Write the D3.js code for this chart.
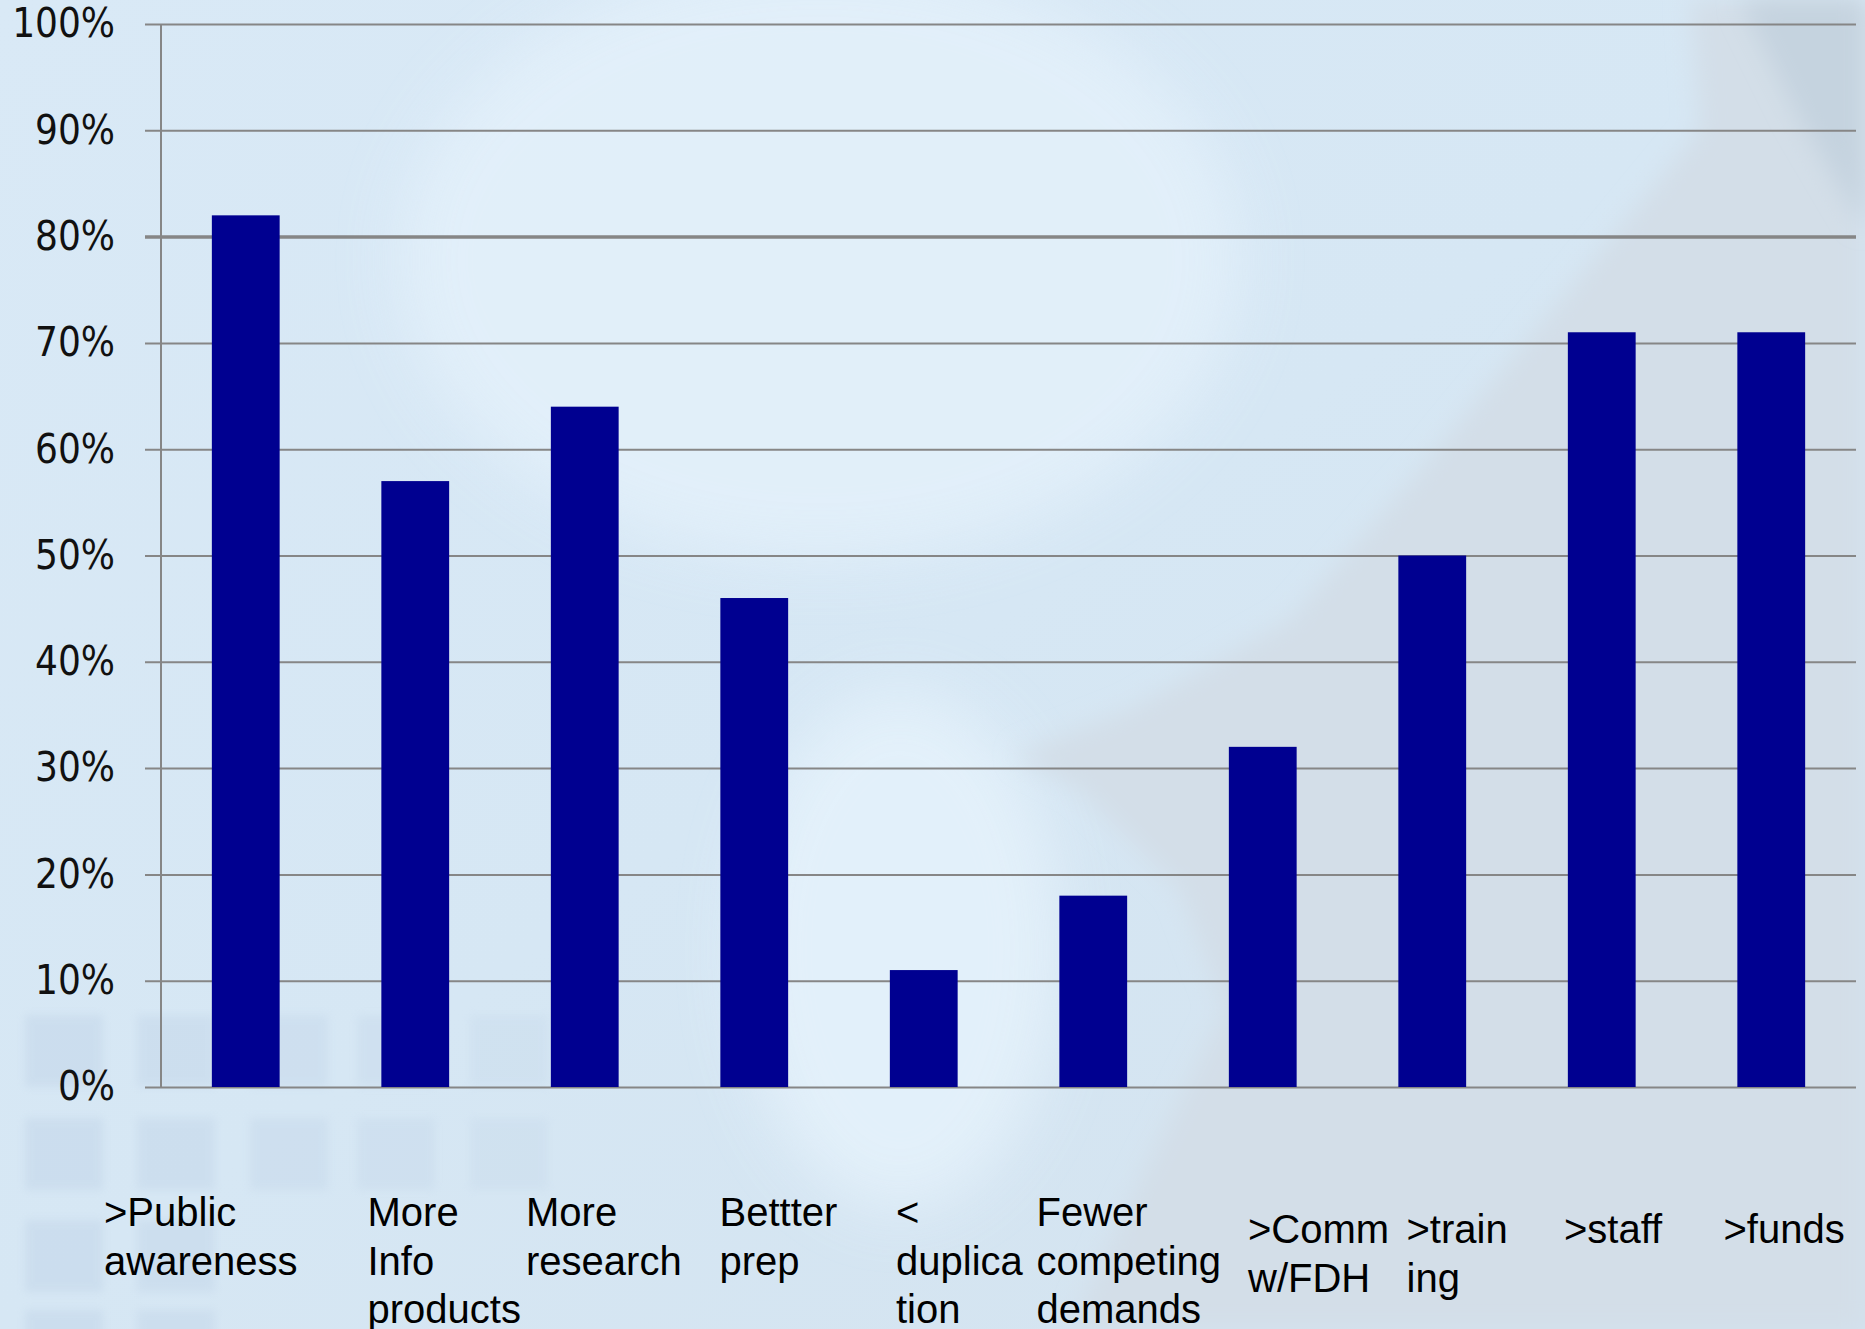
<!DOCTYPE html>
<html>
<head>
<meta charset="utf-8">
<script src="https://cdn.jsdelivr.net/npm/d3@7"></script>
<style>
  html, body { margin: 0; padding: 0; background: #d6e6f3; }
  svg { display: block; }
</style>
</head>
<body>
<svg id="chart" width="1865" height="1329"></svg>
<script>
// chart data
var categories = ["pub", "info", "research", "prep", "dup", "fewer", "comm", "train", "staff", "funds"];
var labelLines = [
    [">Public", "awareness"],
    ["More", "Info", "products"],
    ["More", "research"],
    ["Bettter", "prep"],
    ["<", "duplica", "tion"],
    ["Fewer", "competing", "demands"],
    [">Comm", "w/FDH"],
    [">train", "ing"],
    [">staff"],
    [">funds"]
];
var values = [0.82, 0.57, 0.64, 0.46, 0.11, 0.18, 0.32, 0.50, 0.71, 0.71];
var yTicks = [0, 0.1, 0.2, 0.3, 0.4, 0.5, 0.6, 0.7, 0.8, 0.9, 1.0];

// label text boxes were placed by hand on the slide, so nudge them the same way
var labelDx = [-57, 37, 26, 50, 57, 28, 70, 59, 47, 37];
var labelRow = [0, 0, 0, 0, 0, 0, 1, 1, 1, 1];

var svg = d3.select("#chart"),
    width = +svg.attr("width"),
    height = +svg.attr("height");

var plotLeft = 161, plotRight = 1856, plotTop = 24, plotBottom = 1087;

// ---- background (sky picture behind the slide) ----
var defs = svg.append("defs");

var bgGrad = defs.append("linearGradient")
    .attr("id", "bgGrad")
    .attr("x1", 0).attr("y1", 0).attr("x2", 1).attr("y2", 1);
bgGrad.append("stop").attr("offset", "0%").attr("stop-color", "#d9e9f6");
bgGrad.append("stop").attr("offset", "50%").attr("stop-color", "#d6e7f4");
bgGrad.append("stop").attr("offset", "100%").attr("stop-color", "#d3e2ee");

defs.append("filter").attr("id", "blur30")
    .attr("x", "-20%").attr("y", "-20%").attr("width", "140%").attr("height", "140%")
    .append("feGaussianBlur").attr("stdDeviation", 30);
defs.append("filter").attr("id", "blur12")
    .attr("x", "-20%").attr("y", "-20%").attr("width", "140%").attr("height", "140%")
    .append("feGaussianBlur").attr("stdDeviation", 12);
defs.append("filter").attr("id", "blur4")
    .append("feGaussianBlur").attr("stdDeviation", 4);

var bg = svg.append("g").attr("class", "background");
bg.append("rect").attr("width", width).attr("height", height).attr("fill", "url(#bgGrad)");

// light glow left/middle
bg.append("ellipse")
    .attr("cx", 820).attr("cy", 260).attr("rx", 420).attr("ry", 300)
    .attr("fill", "#e4f1fb").attr("opacity", 0.8)
    .attr("filter", "url(#blur30)");
bg.append("ellipse")
    .attr("cx", 900).attr("cy", 950).attr("rx", 160).attr("ry", 260)
    .attr("fill", "#e6f3fc").attr("opacity", 0.8)
    .attr("filter", "url(#blur30)");

// grey cloud bank on the right
var cloud = [
    [1690, 0], [1865, 0], [1865, 1329], [1070, 1329], [1140, 1180],
    [1225, 1010], [1180, 890], [1080, 790], [1015, 755], [1130, 710],
    [1290, 620], [1420, 470], [1560, 300], [1700, 130]
];
bg.append("path")
    .attr("d", d3.line()(cloud) + "Z")
    .attr("fill", "#d3dee8")
    .attr("filter", "url(#blur12)");
bg.append("path")
    .attr("d", d3.line()([[1740, 0], [1865, 0], [1865, 230], [1800, 120]]) + "Z")
    .attr("fill", "#c5d3df")
    .attr("filter", "url(#blur12)");

// faint squares bottom-left
var sqCols = [25, 137, 250, 357, 470];
var sqRows = [1015, 1118, 1220, 1310];
sqRows.forEach(function (r, ri) {
    sqCols.forEach(function (c, ci) {
        if (ri >= 2 && ci > 1) return;
        bg.append("rect")
            .attr("x", c).attr("y", r)
            .attr("width", 78).attr("height", 72)
            .attr("fill", "#b9cde3")
            .attr("opacity", 0.35 - ci * 0.04)
            .attr("filter", "url(#blur4)");
    });
});

// ---- scales ----
var x = d3.scaleBand()
    .domain(categories)
    .range([plotLeft, plotRight])
    .paddingInner(0.6)
    .paddingOuter(0.3);

var y = d3.scaleLinear()
    .domain([0, 1])
    .range([plotBottom, plotTop]);

// ---- gridlines + y axis ----
var yAxis = d3.axisLeft(y)
    .tickValues(yTicks)
    .tickFormat(d3.format(".0%"))
    .tickSize(-(plotRight - plotLeft))
    .tickPadding(46);

var yg = svg.append("g")
    .attr("class", "y-axis")
    .attr("transform", "translate(" + plotLeft + ",0)")
    .call(yAxis);

yg.select(".domain").remove();
yg.selectAll(".tick line")
    .attr("x1", -16)
    .attr("stroke", "#868686")
    .attr("stroke-width", function (d) {
        return Math.abs(d - 0.8) < 1e-9 ? 3.5 : 2;
    });
yg.selectAll(".tick text")
    .attr("fill", "#111")
    .style("font-family", "'DejaVu Sans Condensed', 'DejaVu Sans', sans-serif")
    .style("font-stretch", "condensed")
    .style("font-size", "40px");

svg.append("line")
    .attr("x1", plotLeft).attr("x2", plotLeft)
    .attr("y1", plotTop).attr("y2", plotBottom)
    .attr("stroke", "#868686")
    .attr("stroke-width", 2);

// ---- bars ----
svg.append("g")
    .attr("class", "bars")
    .selectAll("rect")
    .data(values)
    .enter().append("rect")
    .attr("x", function (d, i) { return x(categories[i]); })
    .attr("width", x.bandwidth())
    .attr("y", function (d) { return y(d); })
    .attr("height", function (d) { return y(0) - y(d); })
    .attr("fill", "#000090");

// ---- category labels ----
var rowBaseline = [1226, 1243];
var lineGap = 48.5;

var labels = svg.append("g")
    .attr("class", "x-labels")
    .selectAll("text")
    .data(labelLines)
    .enter().append("text")
    .attr("fill", "#000")
    .style("font-family", "'Liberation Sans', Arial, sans-serif")
    .style("font-size", "40px");

labels.each(function (lines, i) {
    var t = d3.select(this);
    var lx = x(categories[i]) - x.step() * x.paddingInner() / 2 + labelDx[i];
    lines.forEach(function (s, j) {
        t.append("tspan")
            .attr("x", lx)
            .attr("y", rowBaseline[labelRow[i]] + j * lineGap)
            .text(s);
    });
});
</script>
</body>
</html>
